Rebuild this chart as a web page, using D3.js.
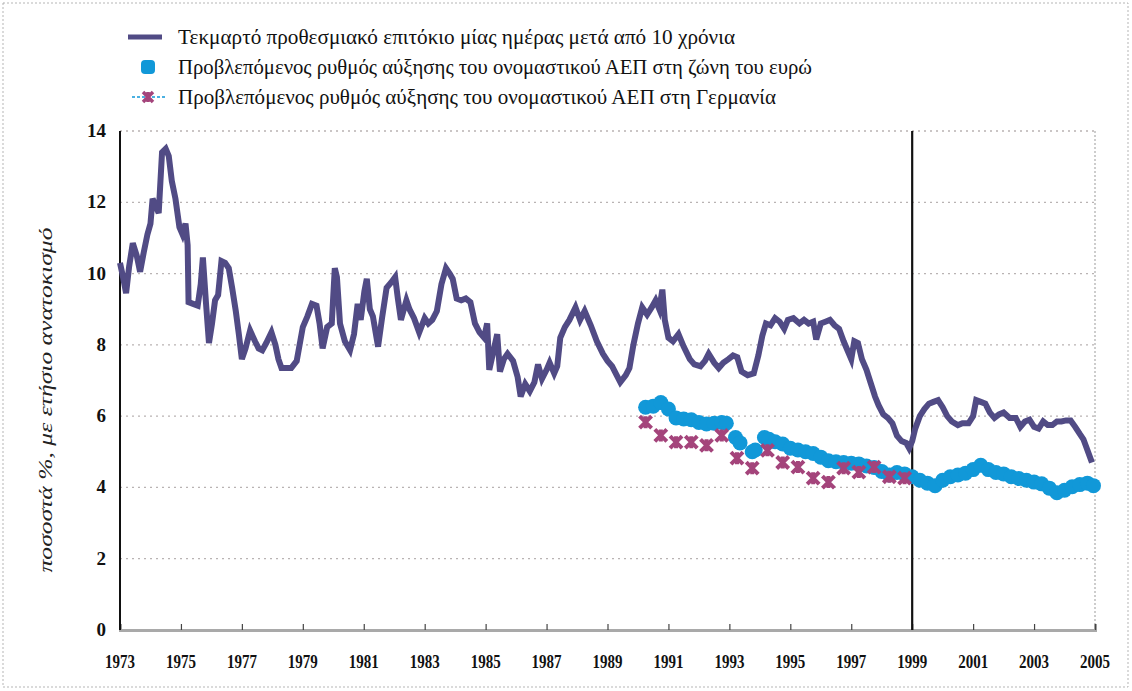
<!DOCTYPE html>
<html>
<head>
<meta charset="utf-8">
<script src="https://cdn.jsdelivr.net/npm/d3@7"></script>
<style>
  body { margin: 0; background: #fff; }
  svg { display: block; }
  .tick-lbl { font-family: "Liberation Serif", "DejaVu Serif", serif; font-weight: bold; font-size: 19px; fill: #111; }
  .legend-txt { font-family: "Liberation Serif", "DejaVu Serif", serif; font-size: 21px; fill: #111; }
</style>
</head>
<body>
<svg id="svgCanvas" width="1132" height="691"></svg>
<script>
// tick labels
var yearTicks = [1973,1975,1977,1979,1981,1983,1985,1987,1989,1991,1993,1995,1997,1999,2001,2003,2005];
var valueTicks = [0,2,4,6,8,10,12,14];

var legendLabels = [
    "Τεκμαρτό προθεσμιακό επιτόκιο μίας ημέρας μετά από 10 χρόνια",
    "Προβλεπόμενος ρυθμός αύξησης του ονομαστικού ΑΕΠ στη ζώνη του ευρώ",
    "Προβλεπόμενος ρυθμός αύξησης του ονομαστικού ΑΕΠ στη Γερμανία"
];
var yTitle = "ποσοστά %, με ετήσιο ανατοκισμό";

// implied overnight forward rate 10 years ahead
var rateYears = [1973.0,1973.1,1973.2,1973.3,1973.42,1973.55,1973.66,1973.78,1973.9,1974.0,
    1974.07,1974.17,1974.27,1974.38,1974.5,1974.6,1974.7,1974.82,1974.95,1975.05,
    1975.15,1975.22,1975.25,1975.4,1975.55,1975.65,1975.72,1975.82,1975.92,1976.02,
    1976.12,1976.22,1976.33,1976.45,1976.57,1976.68,1976.8,1976.9,1977.0,1977.12,
    1977.27,1977.43,1977.55,1977.67,1977.8,1977.97,1978.1,1978.2,1978.3,1978.45,
    1978.62,1978.8,1979.0,1979.15,1979.3,1979.45,1979.55,1979.65,1979.8,1979.95,
    1980.05,1980.12,1980.22,1980.38,1980.55,1980.68,1980.8,1980.9,1981.02,1981.1,
    1981.2,1981.3,1981.47,1981.6,1981.75,1981.9,1982.03,1982.12,1982.22,1982.4,
    1982.5,1982.65,1982.82,1983.0,1983.12,1983.25,1983.4,1983.55,1983.7,1983.82,
    1983.92,1984.05,1984.2,1984.35,1984.5,1984.65,1984.8,1984.95,1985.05,1985.12,
    1985.25,1985.38,1985.47,1985.6,1985.72,1985.9,1986.05,1986.15,1986.3,1986.45,
    1986.6,1986.72,1986.85,1987.0,1987.1,1987.25,1987.35,1987.45,1987.6,1987.75,
    1987.95,1988.1,1988.25,1988.45,1988.65,1988.85,1989.0,1989.15,1989.3,1989.42,
    1989.6,1989.72,1989.85,1990.0,1990.14,1990.3,1990.45,1990.58,1990.7,1990.8,
    1990.88,1991.0,1991.15,1991.33,1991.5,1991.7,1991.85,1992.05,1992.2,1992.32,
    1992.5,1992.65,1992.8,1992.97,1993.12,1993.26,1993.4,1993.6,1993.8,1993.95,
    1994.08,1994.2,1994.35,1994.5,1994.65,1994.8,1994.92,1995.1,1995.3,1995.45,
    1995.6,1995.75,1995.85,1996.0,1996.15,1996.3,1996.45,1996.6,1996.75,1996.9,
    1997.0,1997.1,1997.22,1997.35,1997.5,1997.63,1997.78,1997.9,1998.05,1998.2,
    1998.35,1998.5,1998.65,1998.8,1998.9,1999.0,1999.1,1999.25,1999.4,1999.55,
    1999.7,1999.85,2000.0,2000.15,2000.3,2000.5,2000.65,2000.85,2001.0,2001.1,
    2001.25,2001.4,2001.55,2001.7,2001.85,2002.0,2002.2,2002.4,2002.55,2002.7,
    2002.85,2003.0,2003.15,2003.3,2003.45,2003.6,2003.75,2003.9,2004.05,2004.2,
    2004.35,2004.5,2004.62,2004.75,2004.9];
var rateValues = [10.3,9.9,9.45,10.2,10.85,10.5,10.05,10.6,11.1,11.4,
    12.1,11.9,11.7,13.4,13.5,13.3,12.6,12.1,11.3,11.1,
    11.4,10.8,9.2,9.15,9.1,9.7,10.45,9.2,8.05,8.6,
    9.25,9.4,10.35,10.3,10.15,9.6,8.95,8.3,7.6,7.9,
    8.4,8.1,7.9,7.85,8.05,8.35,8.0,7.6,7.35,7.35,
    7.35,7.55,8.5,8.8,9.15,9.1,8.6,7.9,8.5,8.6,
    10.15,9.9,8.6,8.1,7.85,8.3,9.15,8.7,9.5,9.85,
    9.0,8.8,7.95,8.75,9.6,9.75,9.9,9.3,8.7,9.25,
    9.0,8.75,8.35,8.75,8.6,8.7,8.95,9.7,10.15,10.0,
    9.85,9.3,9.25,9.3,9.2,8.6,8.35,8.2,8.6,7.3,
    7.8,8.3,7.25,7.6,7.75,7.55,7.1,6.55,6.9,6.7,
    6.95,7.45,7.05,7.3,7.5,7.2,7.4,8.2,8.5,8.7,
    9.05,8.7,8.95,8.55,8.1,7.75,7.55,7.4,7.15,6.95,
    7.15,7.35,8.0,8.6,9.05,8.85,9.05,9.25,9.0,9.55,
    8.7,8.2,8.1,8.3,7.95,7.6,7.45,7.4,7.55,7.75,
    7.5,7.35,7.5,7.6,7.7,7.65,7.25,7.15,7.2,7.7,
    8.25,8.6,8.55,8.75,8.65,8.45,8.7,8.75,8.6,8.7,
    8.6,8.65,8.15,8.6,8.65,8.7,8.55,8.45,8.1,7.8,
    7.6,8.1,8.05,7.6,7.3,6.95,6.55,6.3,6.05,5.95,
    5.8,5.45,5.3,5.25,5.1,5.3,5.65,6.0,6.2,6.35,
    6.4,6.45,6.25,6.0,5.85,5.75,5.8,5.8,6.0,6.45,
    6.4,6.35,6.1,5.95,6.05,6.1,5.95,5.95,5.7,5.85,
    5.9,5.7,5.65,5.85,5.75,5.75,5.85,5.85,5.88,5.88,
    5.7,5.5,5.35,5.05,4.7];

// expected nominal GDP growth, euro area
var euroYears = [1990.25,1990.5,1990.75,1991.0,1991.25,1991.5,1991.75,1992.0,1992.25,1992.5,
    1992.75,1992.9,1993.2,1993.35,1993.75,1993.85,1994.15,1994.3,1994.5,1994.75,
    1995.0,1995.25,1995.5,1995.75,1996.0,1996.25,1996.5,1996.75,1997.0,1997.25,
    1997.5,1997.75,1998.0,1998.25,1998.5,1998.75,1999.0,1999.25,1999.5,1999.75,
    2000.0,2000.25,2000.5,2000.75,2001.0,2001.25,2001.5,2001.75,2002.0,2002.25,
    2002.5,2002.75,2003.0,2003.25,2003.5,2003.75,2004.0,2004.25,2004.5,2004.75,2004.95];
var euroValues = [6.25,6.28,6.38,6.2,5.95,5.92,5.9,5.82,5.78,5.8,
    5.82,5.8,5.4,5.25,5.0,5.05,5.4,5.35,5.28,5.22,
    5.1,5.05,5.0,4.95,4.85,4.75,4.72,4.7,4.68,4.66,
    4.6,4.56,4.45,4.35,4.42,4.38,4.3,4.2,4.12,4.05,
    4.2,4.3,4.35,4.4,4.5,4.62,4.5,4.42,4.38,4.3,
    4.25,4.2,4.15,4.1,3.98,3.85,3.92,4.02,4.08,4.12,4.05];

// expected nominal GDP growth, Germany
var germanyYears = [1990.25,1990.75,1991.25,1991.75,1992.25,1992.75,1993.25,1993.75,1994.25,
    1994.75,1995.25,1995.75,1996.25,1996.75,1997.25,1997.75,1998.25,1998.75];
var germanyValues = [5.83,5.46,5.27,5.27,5.18,5.46,4.82,4.54,5.04,
    4.7,4.57,4.26,4.15,4.54,4.43,4.57,4.3,4.26];

var lineColor = "#514b85";
var euroColor = "#1198d8";
var germanyColor = "#a4447b";

var canvas = d3.select("#svgCanvas");

// outer frame
canvas.append("rect")
    .attr("x", 3).attr("y", 3).attr("width", 1125).attr("height", 684)
    .attr("fill", "none").attr("stroke", "#b5b5b5")
    .attr("stroke-dasharray", "2,2");

var plotLeft = 120, plotRight = 1095, plotTop = 131, plotBottom = 630;

var x = d3.scaleLinear().domain([1973, 2005]).range([plotLeft, plotRight]);
var y = d3.scaleLinear().domain([0, 14]).range([plotBottom, plotTop]);

//gridlines
canvas.append("g")
    .selectAll("line")
    .data(valueTicks.filter(function(d){ return d > 0; }))
    .join("line")
    .attr("x1", plotLeft).attr("x2", plotRight)
    .attr("y1", function(d){ return y(d); })
    .attr("y2", function(d){ return y(d); })
    .attr("stroke", "#b9b3b3")
    .attr("stroke-width", 1.3)
    .attr("stroke-dasharray", "2,4");

// right border
canvas.append("line")
    .attr("x1", plotRight).attr("x2", plotRight).attr("y1", plotTop).attr("y2", plotBottom)
    .attr("stroke", "#bdbdbd").attr("stroke-width", 1.5)
    .attr("stroke-dasharray", "2,2");

// x axis
var xAxis = canvas.append("g")
    .attr("transform", "translate(0," + plotBottom + ")")
    .call(d3.axisBottom(x).tickValues(yearTicks).tickSize(-6).tickFormat(""));
xAxis.select(".domain").attr("stroke", "#a9a9a9").attr("stroke-width", 3);
xAxis.selectAll(".tick line").attr("stroke", "#444").attr("stroke-width", 1.2);

canvas.append("g")
    .selectAll("text")
    .data(yearTicks)
    .join("text")
    .attr("class", "tick-lbl")
    .attr("x", function(d){ return x(d); })
    .attr("y", 668)
    .attr("text-anchor", "middle")
    .attr("textLength", 30)
    .attr("lengthAdjust", "spacingAndGlyphs")
    .text(function(d){ return d; });

// y axis
canvas.append("line")
    .attr("x1", plotLeft).attr("x2", plotLeft).attr("y1", plotTop).attr("y2", plotBottom)
    .attr("stroke", "#111").attr("stroke-width", 2);

canvas.append("g")
    .selectAll("text")
    .data(valueTicks)
    .join("text")
    .attr("class", "tick-lbl")
    .attr("x", 106)
    .attr("y", function(d){ return y(d) + 6; })
    .attr("text-anchor", "end")
    .text(function(d){ return d; });

canvas.append("text")
    .attr("transform", "translate(52,400) rotate(-90)")
    .attr("text-anchor", "middle")
    .attr("font-family", "Liberation Serif, serif")
    .attr("font-style", "italic")
    .attr("font-size", 19)
    .attr("fill", "#222")
    .attr("textLength", 345)
    .attr("lengthAdjust", "spacingAndGlyphs")
    .text(yTitle);

// 1999 marker
canvas.append("line")
    .attr("x1", x(1999)).attr("x2", x(1999)).attr("y1", plotTop).attr("y2", plotBottom)
    .attr("stroke", "#111").attr("stroke-width", 2.2);

// euro area points
canvas.append("g")
    .selectAll("circle")
    .data(d3.range(euroYears.length))
    .join("circle")
    .attr("cx", function(i){ return x(euroYears[i]); })
    .attr("cy", function(i){ return y(euroValues[i]); })
    .attr("r", 7.5)
    .attr("fill", euroColor);

// Germany markers
var star = function(s){
    return "M" + (-s) + "," + (-s) + "L" + s + "," + s +
           "M" + (-s) + "," + s + "L" + s + "," + (-s) +
           "M0," + (-s) + "L0," + s;
};
canvas.append("g")
    .selectAll("path")
    .data(d3.range(germanyYears.length))
    .join("path")
    .attr("transform", function(i){ return "translate(" + x(germanyYears[i]) + "," + y(germanyValues[i]) + ")"; })
    .attr("d", star(6))
    .attr("stroke", germanyColor)
    .attr("stroke-width", 4)
    .attr("fill", "none");

// rate line
var line = d3.line()
    .x(function(i){ return x(rateYears[i]); })
    .y(function(i){ return y(rateValues[i]); });

canvas.append("path")
    .datum(d3.range(rateYears.length))
    .attr("d", line)
    .attr("fill", "none")
    .attr("stroke", lineColor)
    .attr("stroke-width", 6)
    .attr("stroke-linejoin", "miter");

// legend
var legendY = [37, 67, 97];
var legendW = [557, 634, 598];

canvas.append("line")
    .attr("x1", 128).attr("x2", 162).attr("y1", legendY[0]).attr("y2", legendY[0])
    .attr("stroke", lineColor).attr("stroke-width", 5);

canvas.append("rect")
    .attr("x", 141).attr("y", legendY[1] - 7).attr("width", 14).attr("height", 14)
    .attr("rx", 4).attr("fill", euroColor);

canvas.append("line")
    .attr("x1", 132).attr("x2", 165).attr("y1", legendY[2]).attr("y2", legendY[2])
    .attr("stroke", euroColor).attr("stroke-width", 1.5)
    .attr("stroke-dasharray", "3,2");
canvas.append("path")
    .attr("transform", "translate(148," + legendY[2] + ")")
    .attr("d", star(5))
    .attr("stroke", germanyColor).attr("stroke-width", 3.5).attr("fill", "none");

canvas.append("g")
    .selectAll("text")
    .data(legendLabels)
    .join("text")
    .attr("class", "legend-txt")
    .attr("x", 178)
    .attr("y", function(d, i){ return legendY[i] + 7; })
    .attr("textLength", function(d, i){ return legendW[i]; })
    .attr("lengthAdjust", "spacingAndGlyphs")
    .text(function(d){ return d; });
</script>
</body>
</html>
